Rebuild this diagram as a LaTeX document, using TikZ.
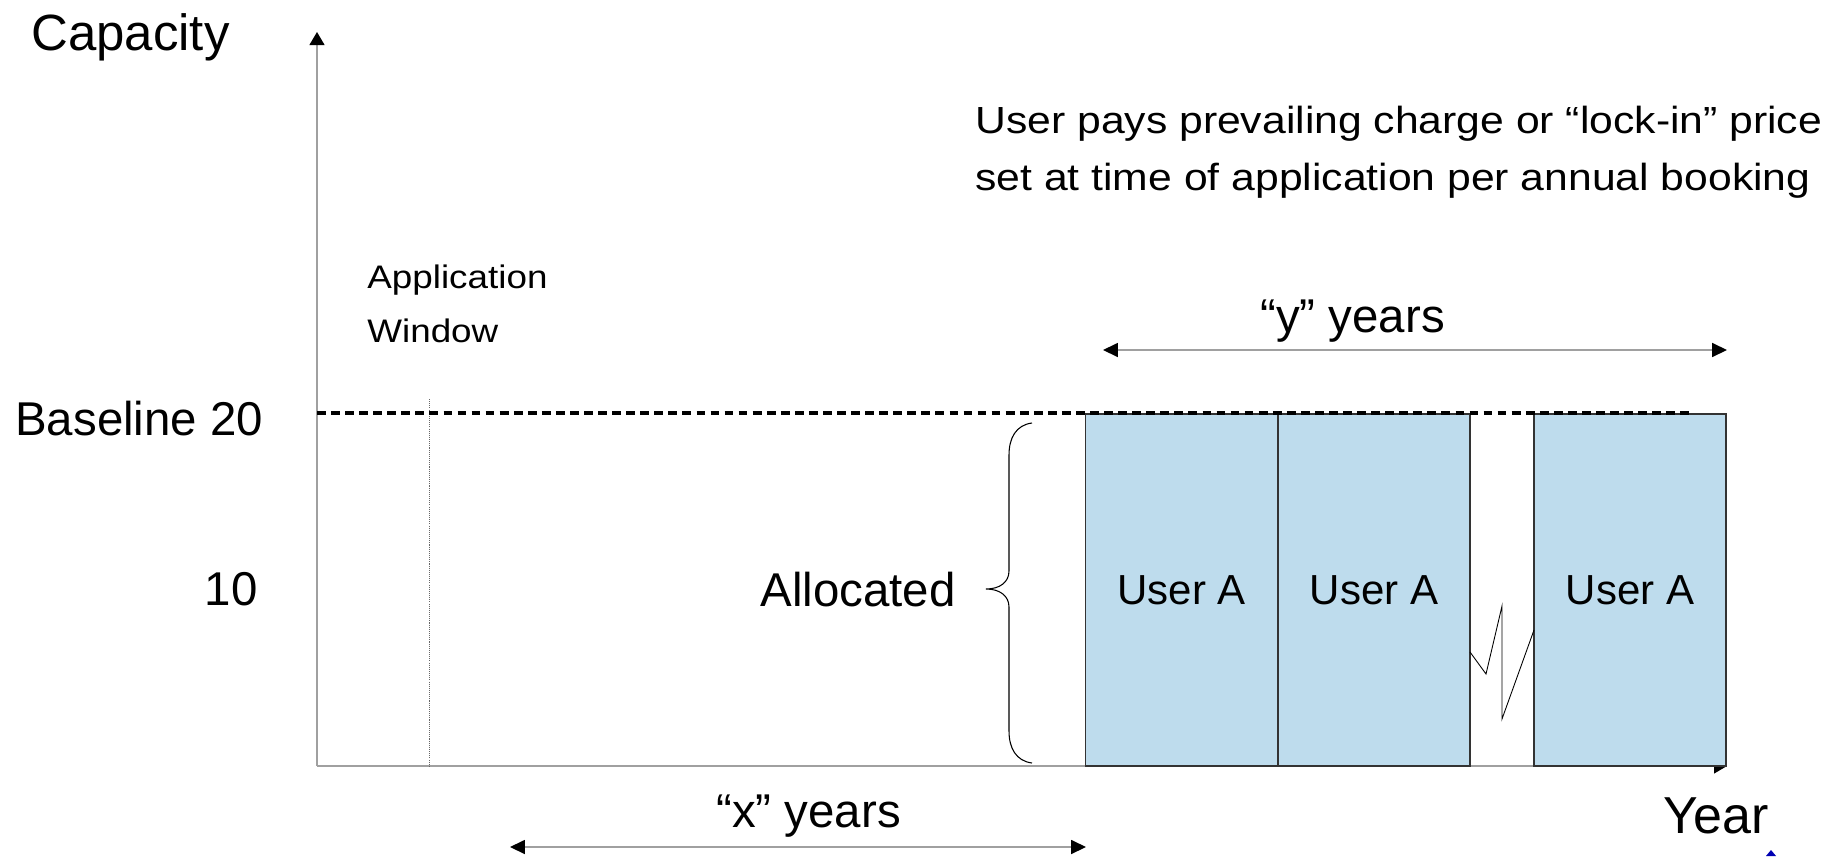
\documentclass[tikz,border=0pt]{standalone}
\usepackage{fontspec}
\setmainfont{Liberation Sans}
\newfontfamily\midsans[FakeStretch=1.13]{Liberation Sans}
\usetikzlibrary{arrows.meta}
\definecolor{boxblue}{RGB}{190,220,237}
\definecolor{axisgray}{RGB}{160,160,160}

\begin{document}
\begin{tikzpicture}[x=0.02cm,y=-0.02cm,inner sep=0pt,
  lbl/.style={anchor=base west},
  axis/.style={axisgray,line width=0.8pt},
  tip/.style={-{Triangle[length=7.4pt,width=8.5pt,color=black]}},
  span/.style={axisgray,line width=0.8pt,{Triangle[length=8.5pt,width=8pt,color=black]}-{Triangle[length=8.5pt,width=8pt,color=black]}},
  booking/.style={draw=black!80,fill=boxblue,line width=0.8pt,minimum width=3.84cm,minimum height=7.04cm,font=\fontsize{23.9}{28}\selectfont}]
\useasboundingbox (0,0) rectangle (1840,856);
% axes
\coordinate (O) at (317,766);
\coordinate (ytop) at (317,32);
\coordinate (xend) at (1727,766);
\draw[axis,tip] (O) -- (ytop);
\draw[axis,tip] (O) -- (xend);
\node[lbl,font=\fontsize{29}{35}\selectfont] (capacity) at (31,50) {Capacity};
\node[lbl,font=\fontsize{29.6}{35}\selectfont] (year) at (1663,833) {Year};
\node[lbl,font=\fontsize{27}{32}\selectfont] (base20) at (15,435) {Baseline 20};
\node[anchor=base east,font=\fontsize{27}{32}\selectfont] (ten) at (258,605) {10};
% application window
\draw[black!60,line width=0.5pt,dash pattern=on 0.6pt off 0.6pt] (429,399) -- (429,766);
\node[lbl,align=left,font=\midsans\fontsize{18.55}{30.7}\selectfont] (appwin) at (367,342) {Application\\Window};
% bookings
\node[booking] (userA1) at (1181.75,590) {User A};
\node[booking] (userA2) at (1374,590) {User A};
\node[booking] (userA3) at (1630,590) {User A};
\draw[line width=0.5pt] (1470,652) -- (1486,674) -- (1502,606) -- (1502,719) -- (1534,630);
\draw[line width=2pt,dash pattern=on 5pt off 3pt] (317,413) -- (1694,413);
% allocated brace
\draw[line width=0.6pt] (1032,423) .. controls (1016,425) and (1009,438) .. (1009,455) -- (1009,571)
  .. controls (1009,582) and (1000,589) .. (986,589)
  .. controls (1000,589) and (1009,596) .. (1009,607) -- (1009,731)
  .. controls (1009,748) and (1016,761) .. (1032,763);
\node[anchor=base east,font=\fontsize{27}{32}\selectfont] (allocated) at (956,606) {Allocated};
% periods
\coordinate (y1) at (1103,350);
\coordinate (y2) at (1727,350);
\draw[span] (y1) -- (y2);
\node[lbl,font=\fontsize{27}{32}\selectfont] (yyears) at (1260,332) {“y” years};
\coordinate (x1) at (510,847);
\coordinate (x2) at (1086,847);
\draw[span] (x1) -- (x2);
\node[lbl,font=\fontsize{27}{32}\selectfont] (xyears) at (716,827) {“x” years};
\node[lbl,align=left,font=\midsans\fontsize{21.5}{32.4}\selectfont] (note) at (975,190) {User pays prevailing charge or “lock-in” price\\set at time of application per annual booking};
\fill[blue!70!black] (1766,856) -- (1771,850) -- (1776,856) -- cycle;
\end{tikzpicture}
\end{document}
